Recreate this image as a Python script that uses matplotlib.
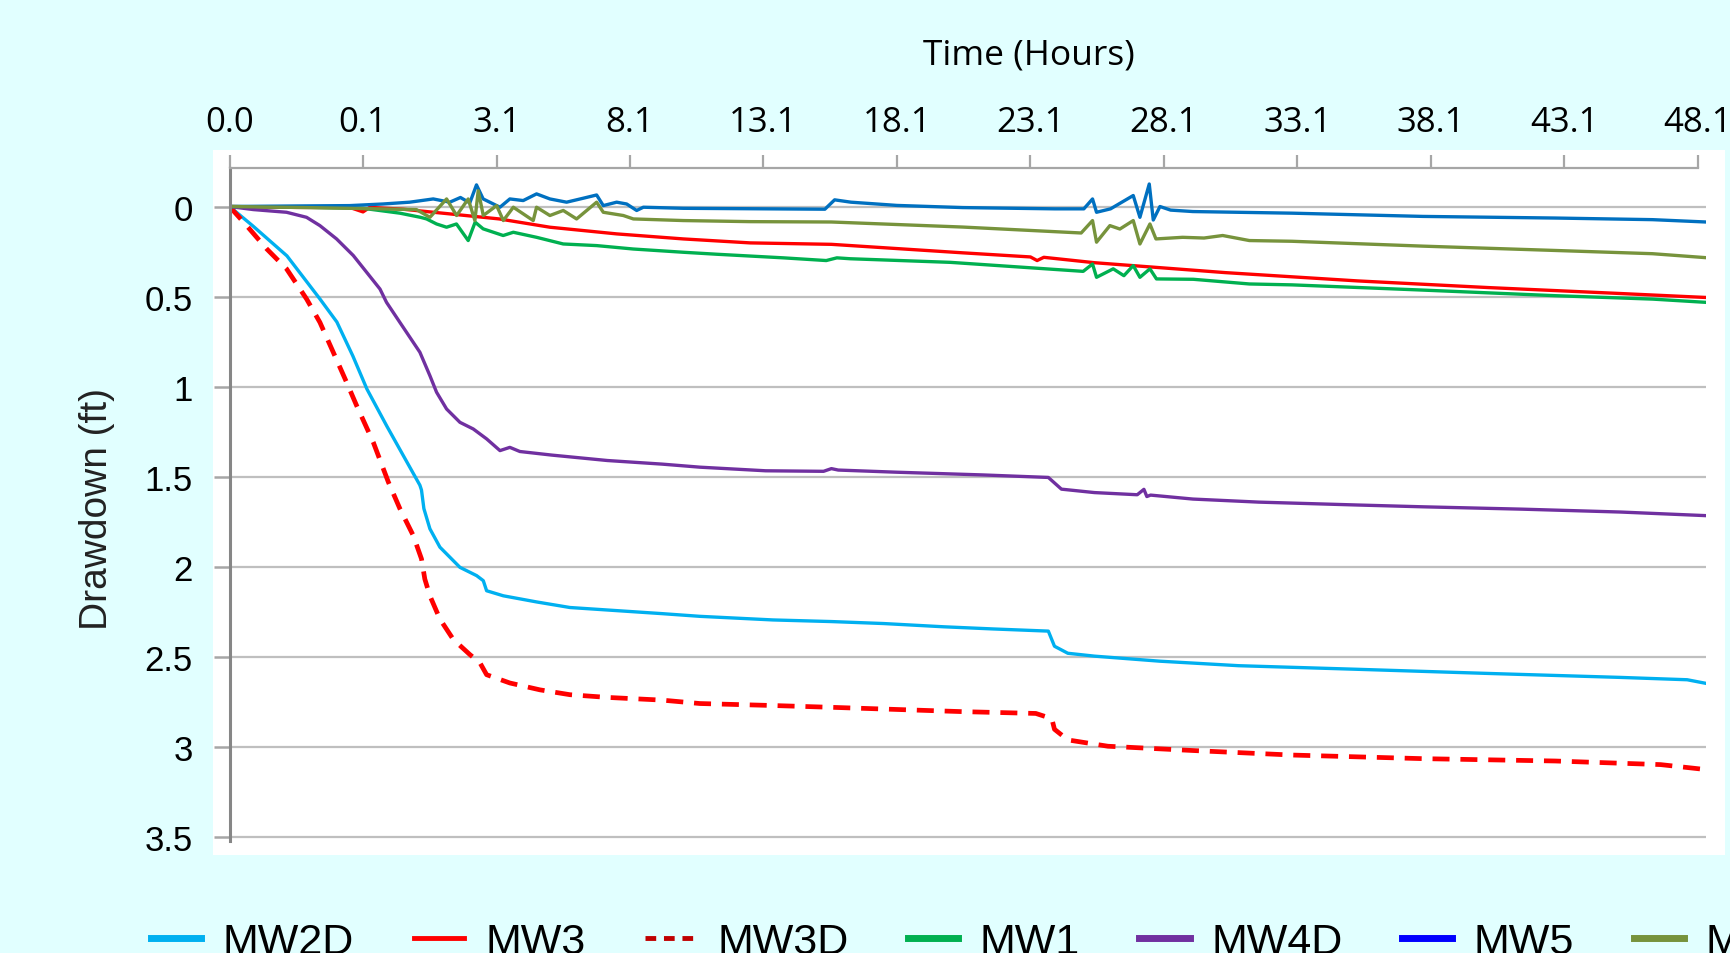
import matplotlib
matplotlib.use("Agg")
import matplotlib.pyplot as plt
from matplotlib.lines import Line2D
from matplotlib.patches import Rectangle

# Category axis: tick labels are the time (hours) at evenly spaced category positions
tick_labels = ['0.0', '0.1', '3.1', '8.1', '13.1', '18.1', '23.1',
               '28.1', '33.1', '38.1', '43.1', '48.1']
y_ticks = [0, 0.5, 1, 1.5, 2, 2.5, 3, 3.5]
y_tick_labels = ['0', '0.5', '1', '1.5', '2', '2.5', '3', '3.5']

# series values (x = category position, y = drawdown ft)
mw2d_x = [0, 0.175, 0.43, 0.677, 0.804, 0.924, 1.029, 1.179, 1.33, 1.426,
          1.438, 1.456, 1.501, 1.576, 1.726, 1.851, 1.901, 1.926, 2.051, 2.30,
          2.55, 3.24, 3.524, 4.07, 4.509, 4.90, 5.35, 5.72, 6.134, 6.18,
          6.28, 6.48, 6.97, 7.56, 8.45, 9.43, 10.42, 10.92, 11.06]
mw2d_y = [0, 0.108, 0.274, 0.513, 0.641, 0.83, 1.013, 1.22, 1.42, 1.547,
          1.574, 1.677, 1.789, 1.891, 2.003, 2.049, 2.077, 2.133, 2.161, 2.195,
          2.226, 2.26, 2.275, 2.295, 2.304, 2.315, 2.333, 2.345, 2.357, 2.441,
          2.48, 2.496, 2.524, 2.549, 2.569, 2.592, 2.614, 2.627, 2.647]

mw3_x = [0, 0.5, 0.9, 1.0, 1.05, 1.3, 1.65, 2.02, 2.40, 2.90,
         3.40, 3.90, 4.509, 5.49, 6.0, 6.05, 6.1, 6.48, 7.46, 8.45,
         9.43, 10.42, 11.06]
mw3_y = [0, 0.005, 0.005, 0.03, 0.005, 0.015, 0.041, 0.069, 0.115, 0.152,
         0.18, 0.202, 0.21, 0.257, 0.28, 0.30, 0.282, 0.312, 0.367, 0.413,
         0.45, 0.483, 0.505]

mw3d_x = [0, 0.128, 0.278, 0.427, 0.577, 0.677, 0.777, 0.877, 0.952, 1.077,
          1.19, 1.276, 1.376, 1.438, 1.463, 1.501, 1.576, 1.676, 1.80, 1.876,
          1.926, 2.10, 2.325, 2.55, 2.83, 3.24, 3.524, 4.07, 4.509, 5.49,
          6.04, 6.16, 6.18, 6.28, 6.58, 7.22, 7.96, 8.94, 9.93, 10.72, 11.04]
mw3d_y = [0, 0.106, 0.235, 0.346, 0.513, 0.643, 0.809, 0.976, 1.105, 1.309,
          1.53, 1.677, 1.826, 1.956, 2.068, 2.161, 2.29, 2.403, 2.487, 2.533,
          2.599, 2.645, 2.683, 2.71, 2.725, 2.74, 2.759, 2.77, 2.78, 2.804,
          2.814, 2.843, 2.902, 2.961, 2.996, 3.02, 3.045, 3.065, 3.078, 3.098, 3.124]

mw1_x = [0, 0.5, 1.0, 1.276, 1.43, 1.476, 1.551, 1.626, 1.70, 1.788,
         1.84, 1.90, 2.05, 2.126, 2.30, 2.50, 2.75, 3.025, 3.40, 3.65,
         4.15, 4.47, 4.55, 4.65, 5.40, 6.395, 6.465, 6.495, 6.62, 6.70,
         6.77, 6.82, 6.895, 6.944, 7.22, 7.64, 7.96, 8.94, 9.93, 10.66, 11.06]
mw1_y = [0, 0.003, 0.01, 0.037, 0.06, 0.069, 0.097, 0.115, 0.097, 0.189,
         0.087, 0.124, 0.161, 0.143, 0.171, 0.208, 0.217, 0.236, 0.254, 0.265,
         0.285, 0.3, 0.285, 0.29, 0.31, 0.36, 0.319, 0.393, 0.346, 0.384,
         0.328, 0.393, 0.346, 0.402, 0.404, 0.43, 0.435, 0.464, 0.495, 0.514, 0.532]

mw4d_x = [0, 0.178, 0.427, 0.577, 0.677, 0.802, 0.927, 1.027, 1.127, 1.176,
          1.276, 1.426, 1.501, 1.551, 1.626, 1.726, 1.826, 1.926, 2.026, 2.10,
          2.175, 2.415, 2.83, 3.24, 3.524, 4.016, 4.45, 4.509, 4.56, 5.0,
          5.641, 6.134, 6.232, 6.479, 6.80, 6.85, 6.872, 6.9, 7.217, 7.711,
          8.449, 8.94, 9.68, 10.42, 11.06]
mw4d_y = [0, 0.017, 0.032, 0.060, 0.106, 0.18, 0.272, 0.365, 0.458, 0.532,
          0.643, 0.809, 0.939, 1.031, 1.124, 1.198, 1.235, 1.29, 1.355, 1.337,
          1.36, 1.38, 1.41, 1.43, 1.447, 1.467, 1.47, 1.455, 1.463, 1.475,
          1.49, 1.504, 1.569, 1.588, 1.60, 1.57, 1.61, 1.602, 1.624, 1.641,
          1.657, 1.667, 1.68, 1.696, 1.716]

mw5_x = [0, 0.5, 0.9, 1.15, 1.35, 1.526, 1.65, 1.73, 1.80, 1.85,
         1.90, 2.026, 2.10, 2.20, 2.30, 2.40, 2.525, 2.65, 2.75, 2.80,
         2.90, 2.975, 3.05, 3.10, 3.40, 4.46, 4.533, 4.655, 5.0, 5.494,
         6.183, 6.40, 6.465, 6.495, 6.60, 6.77, 6.82, 6.89, 6.92, 6.97,
         7.05, 7.217, 7.96, 8.94, 9.93, 10.66, 11.06]
mw5_y = [0, -0.003, -0.005, -0.014, -0.024, -0.042, -0.024, -0.05, -0.02, -0.12,
         -0.042, 0.004, -0.042, -0.033, -0.07, -0.042, -0.024, -0.046, -0.064, -0.005,
         -0.024, -0.014, 0.022, 0.004, 0.01, 0.015, -0.037, -0.024, -0.006, 0.006,
         0.013, 0.013, -0.042, 0.032, 0.013, -0.061, 0.06, -0.125, 0.075, 0.0,
         0.02, 0.028, 0.037, 0.055, 0.064, 0.073, 0.086]

mw4_x = [0, 0.5, 0.9, 1.40, 1.501, 1.626, 1.701, 1.788, 1.838, 1.863,
         1.901, 2.001, 2.051, 2.126, 2.275, 2.30, 2.40, 2.50, 2.60, 2.75,
         2.80, 2.95, 3.025, 3.40, 3.90, 4.509, 5.49, 6.38, 6.465, 6.495,
         6.595, 6.67, 6.77, 6.82, 6.895, 6.94, 7.14, 7.30, 7.44, 7.64,
         7.96, 8.94, 9.93, 10.66, 11.06]
mw4_y = [0, 0.005, 0.01, 0.017, 0.060, -0.042, 0.050, -0.042, 0.078, -0.088,
         0.050, -0.005, 0.078, 0.004, 0.078, 0.004, 0.050, 0.022, 0.069, -0.024,
         0.032, 0.050, 0.069, 0.078, 0.084, 0.086, 0.114, 0.147, 0.078, 0.198,
         0.106, 0.125, 0.078, 0.208, 0.097, 0.18, 0.171, 0.175, 0.161, 0.189,
         0.193, 0.22, 0.244, 0.262, 0.284]

legend_names = ['MW2D', 'MW3', 'MW3D', 'MW1', 'MW4D', 'MW5', 'MW4']

bg = '#e1ffff'
fig = plt.figure(figsize=(17.31, 9.54), dpi=100, facecolor=bg)

# white plot area behind the axes
fig.patches.append(Rectangle((0.1231, 0.1027), 0.8735, 0.739, transform=fig.transFigure,
                             facecolor='white', edgecolor='none', zorder=-1))

ax = fig.add_axes([0.1326, 0.1178, 0.8529, 0.7051])
ax.set_facecolor('none')
ax.set_zorder(1)

lw = 2.4
ax.plot(mw2d_x, mw2d_y, color='#00b0f0', lw=lw)
ax.plot(mw3_x, mw3_y, color='#ff0000', lw=lw)
ax.plot(mw3d_x, mw3d_y, color='#ff0000', lw=3.4, dashes=(3.6, 2.3))
ax.plot(mw1_x, mw1_y, color='#00b050', lw=lw)
ax.plot(mw4d_x, mw4d_y, color='#7030a0', lw=lw)
ax.plot(mw5_x, mw5_y, color='#0070c0', lw=lw)
ax.plot(mw4_x, mw4_y, color='#77933c', lw=lw)

ax.set_xlim(0, 11.06)
ax.set_ylim(3.52, -0.214)

ax.set_xticks(range(len(tick_labels)))
ax.set_xticklabels(tick_labels, fontsize=25, fontfamily='Open Sans')
ax.xaxis.tick_top()
ax.tick_params(axis='x', which='both', direction='out', length=9.5, width=1.6,
               color='#a6a6a6', pad=11, labelcolor='black', bottom=False)

ax.set_yticks(y_ticks)
ax.set_yticklabels(y_tick_labels, fontsize=25, fontfamily='Liberation Sans')
ax.tick_params(axis='y', direction='out', length=11.5, width=1.8,
               color='#a6a6a6', pad=15)

ax.grid(axis='y', color='#bfbfbf', lw=1.6)
ax.set_axisbelow(True)

for s in ['right', 'bottom']:
    ax.spines[s].set_visible(False)
ax.spines['left'].set_color('#868686')
ax.spines['left'].set_linewidth(2.2)
ax.spines['top'].set_color('#a6a6a6')
ax.spines['top'].set_linewidth(1.6)
ax.spines['top'].set_bounds(0, len(tick_labels) - 1)

fig.text(1029 / 1731, 1 - 55 / 954, 'Time (Hours)', fontsize=25.5, fontfamily='Open Sans',
         ha='center', va='center')
fig.text(97 / 1731, 1 - 509 / 954, 'Drawdown (ft)', fontsize=28, fontfamily='Liberation Sans',
         rotation=90, ha='center', va='center', color='#222222')

handles = [
    Line2D([], [], color='#00b0f0', lw=5),
    Line2D([], [], color='#ff0000', lw=3.5),
    Line2D([], [], color='#c00000', lw=3.5, dashes=(2.2, 1.6)),
    Line2D([], [], color='#00b050', lw=5),
    Line2D([], [], color='#7030a0', lw=5),
    Line2D([], [], color='#0000ff', lw=5),
    Line2D([], [], color='#77933c', lw=5),
]
fig.legend(handles, legend_names, loc='lower left', bbox_to_anchor=(151 / 1731, -0.009),
           ncol=7, frameon=False, prop={'family': 'Liberation Sans', 'size': 31},
           handlelength=1.17, handletextpad=0.5, columnspacing=1.38,
           borderpad=0, borderaxespad=0)

fig.savefig('out.png', dpi=100, facecolor=bg)
